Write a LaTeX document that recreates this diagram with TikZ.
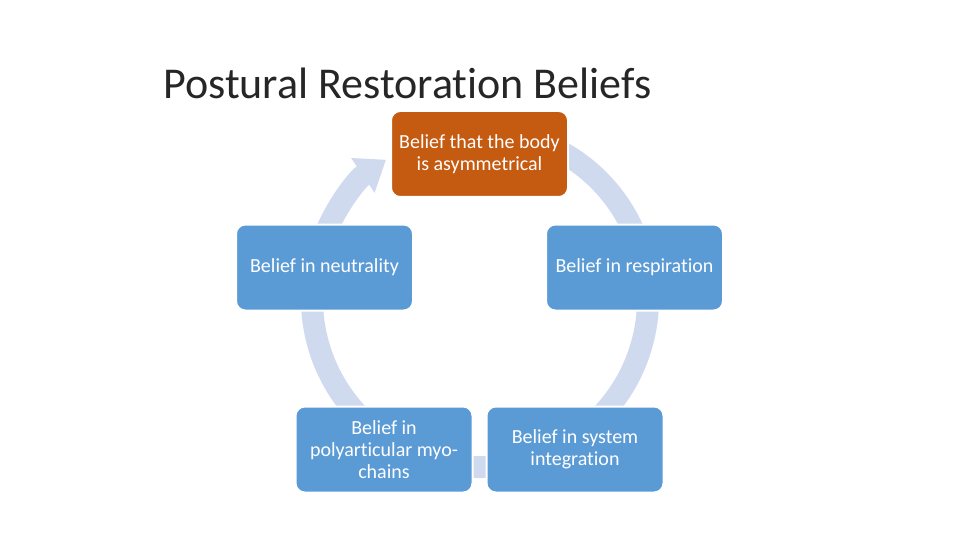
\documentclass[tikz,border=0pt]{standalone}
\usepackage{fontspec}
\setmainfont{Carlito}[Ligatures=NoCommon]
\usetikzlibrary{arrows.meta,positioning,calc}
\definecolor{beliefblue}{HTML}{5B9BD5}
\definecolor{belieforange}{HTML}{C55A11}
\definecolor{ringblue}{HTML}{D0DAEE}

\begin{document}
\begin{tikzpicture}[x=0.75pt,y=0.75pt,
  belief/.style={draw=white,line width=1.5pt,fill=beliefblue,text=white,rounded corners=7pt,
    minimum width=132.75pt,minimum height=64.5pt,align=center,inner sep=2pt,
    font=\fontsize{15}{16.5}\selectfont},
  ring/.style={draw=ringblue,line width=16.5pt,-{Triangle[length=21pt,width=30pt]}}]
\useasboundingbox (0,0) rectangle (960,540);
\node[anchor=base west,inner sep=0pt,text=black!85,font=\fontsize{33}{40}\selectfont] (title) at (163,441) {Postural Restoration Beliefs};
\coordinate (c) at (480,241);
% the cycle arrow behind the boxes
\draw[ring] ($(c)+(70:168)$) arc[start angle=70,end angle=-236,radius=168];
\node[belief,fill=belieforange] (body) at (479.5,386) {Belief that the body\\is asymmetrical};
\node[belief] (resp) at (634.5,272.5) {Belief in respiration};
\node[belief] (sys) at (575,90.5) {Belief in system\\integration};
\node[belief] (myo) at (384,90.5) {Belief in\\polyarticular myo-\\chains};
\node[belief] (neut) at (324.5,272.5) {Belief in neutrality};
\end{tikzpicture}
\end{document}
